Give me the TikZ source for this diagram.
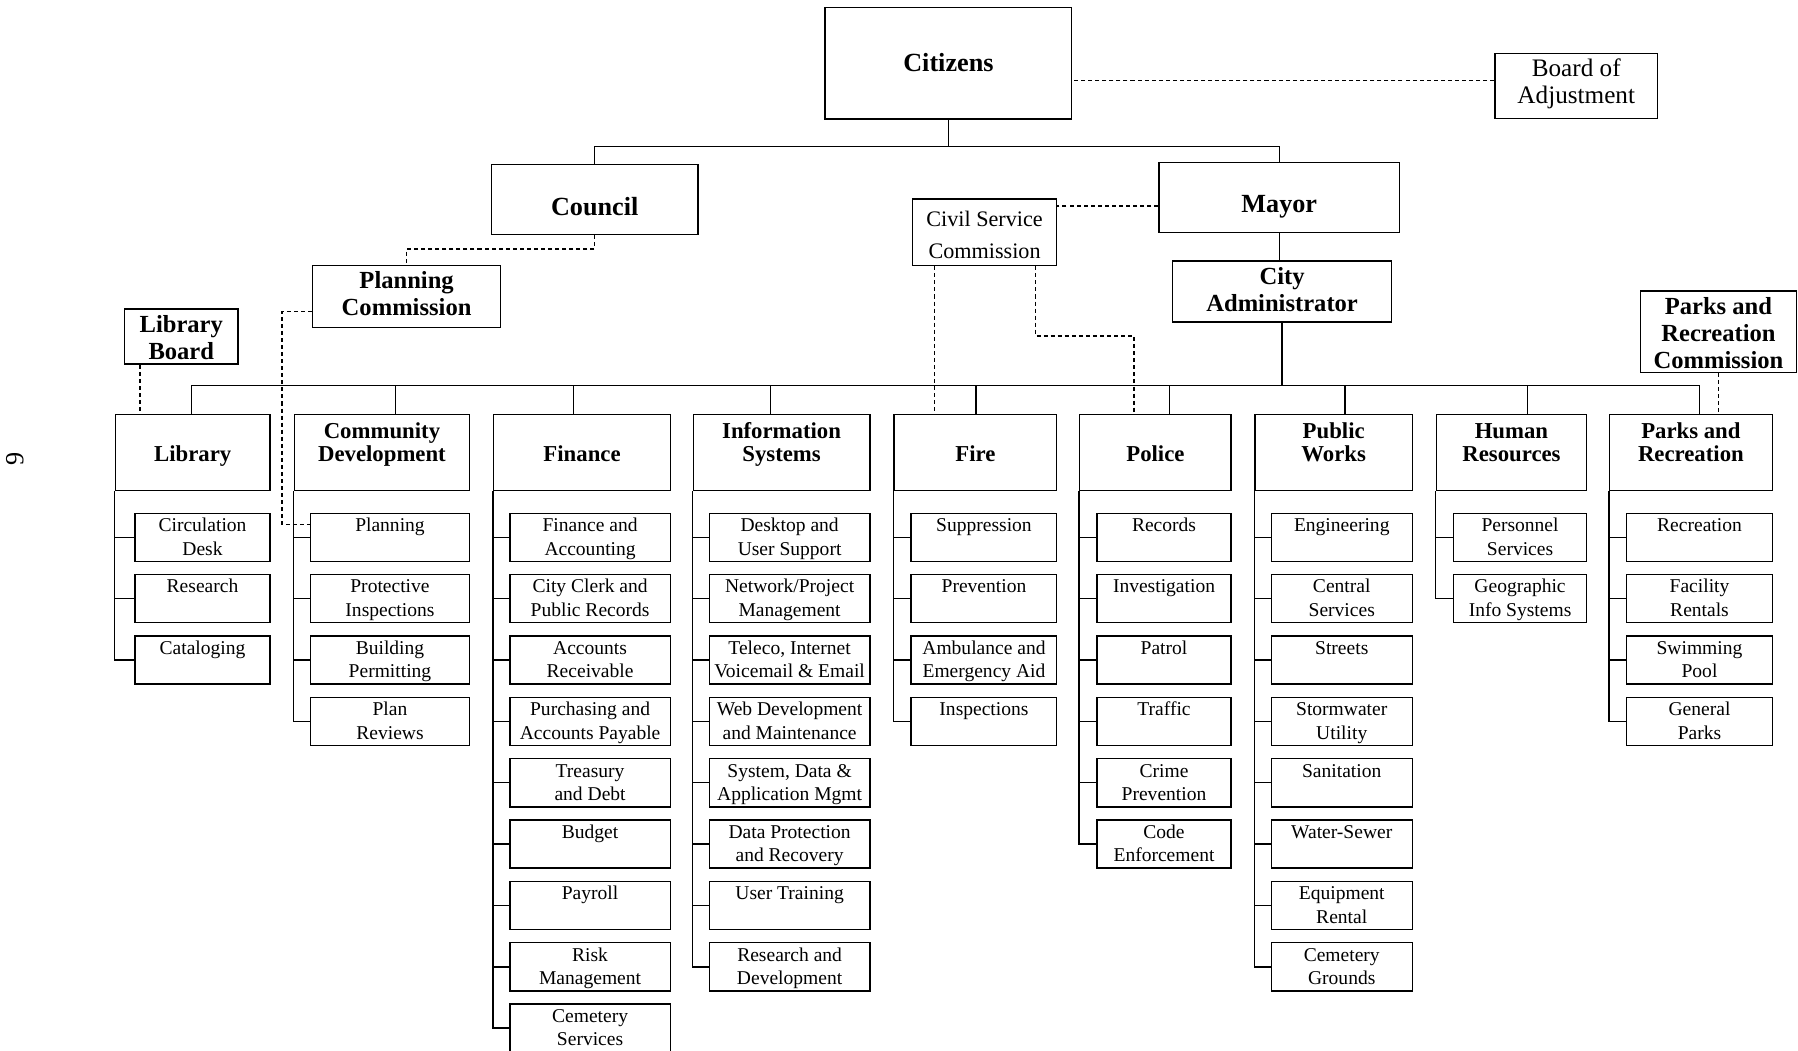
\documentclass[tikz,border=0pt]{standalone}
\usepackage{fontspec}
\setmainfont{Liberation Serif}

\begin{document}
\begin{tikzpicture}[x=0.02cm, y=-0.02cm, line width=0.7pt,
  box/.style={draw, anchor=north west, align=center, inner sep=0pt},
  topbox/.style={box, font=\fontsize{13}{14}\selectfont\bfseries},
  board/.style={box, font=\fontsize{12.2}{13.4}\selectfont\bfseries},
  head/.style={box, font=\fontsize{11.3}{11.4}\selectfont\bfseries, text height=23pt, text depth=14.6pt},
  sub/.style={box, font=\fontsize{9.7}{11.7}\selectfont, text height=20.8pt, text depth=3.1pt, minimum width=#1},
  subone/.style={sub=#1, text height=9.1pt, text depth=14.8pt},
  link/.style={dash pattern=on 2pt off 1.5pt}]

\useasboundingbox (0,0) rectangle (1568,916);

\node[rotate=90, font=\fontsize{13}{13}\selectfont] (pagenum) at (13,400) {9};

\node[topbox, minimum width=4.3cm, text height=31.9pt, text depth=23.3pt] (citizens) at (719,6) {Citizens};
\node[box, font=\fontsize{12.5}{13.7}\selectfont, minimum width=2.84cm, text height=25pt, text depth=7.4pt] (board) at (1303,46) {Board of\\Adjustment};
\node[topbox, minimum width=3.6cm, text height=25pt, text depth=9.7pt] (council) at (428,143) {Council};
\node[topbox, minimum width=4.2cm, text height=25pt, text depth=9.7pt] (mayor) at (1010,141) {Mayor};
\node[box, font=\fontsize{11}{15.9}\selectfont, minimum width=2.52cm, text height=29.6pt, text depth=3.4pt] (civil) at (795,173) {Civil Service\\Commission};
\node[board, minimum width=3.82cm, text height=25pt, text depth=5.2pt] (admin) at (1022,227) {City\\Administrator};
\node[board, minimum width=3.28cm, text height=25pt, text depth=5.7pt] (planning) at (272,231) {Planning\\Commission};
\node[board, minimum width=1.98cm, text height=25pt, text depth=2.3pt] (libboard) at (108,269) {Library\\Board};
\node[board, minimum width=2.72cm, text height=38.7pt, text depth=1.7pt] (prcomm) at (1430,253) {Parks and\\Recreation\\Commission};

% departments
\node[head, minimum width=2.7cm] (lib) at (100,361) {Library};
\node[head, minimum width=3.06cm] (cd) at (256,361) {Community\\Development};
\node[head, minimum width=3.08cm] (fin) at (430,361) {Finance};
\node[head, minimum width=3.08cm] (infosys) at (604,361) {Information\\Systems};
\node[head, minimum width=2.84cm] (fire) at (779,361) {Fire};
\node[head, minimum width=2.64cm] (police) at (941,361) {Police};
\node[head, minimum width=2.74cm] (pw) at (1094,361) {Public\\Works};
\node[head, minimum width=2.62cm] (hr) at (1252,361) {Human\\Resources};
\node[head, minimum width=2.84cm] (pr) at (1403,361) {Parks and\\Recreation};

% library
\node[sub=2.36cm] (lib1) at (117,447) {Circulation\\Desk};
\node[subone=2.36cm] (lib2) at (117,500.5) {Research};
\node[subone=2.36cm] (lib3) at (117,554) {Cataloging};

% community development
\node[subone=2.78cm] (cd1) at (270,447) {Planning};
\node[sub=2.78cm] (cd2) at (270,500.5) {Protective\\Inspections};
\node[sub=2.78cm] (cd3) at (270,554) {Building\\Permitting};
\node[sub=2.78cm] (cd4) at (270,607.5) {Plan\\Reviews};

% finance
\node[sub=2.8cm] (fin1) at (444,447) {Finance and\\Accounting};
\node[sub=2.8cm] (fin2) at (444,500.5) {City Clerk and\\Public Records};
\node[sub=2.8cm] (fin3) at (444,554) {Accounts\\Receivable};
\node[sub=2.8cm] (fin4) at (444,607.5) {Purchasing and\\Accounts Payable};
\node[sub=2.8cm] (fin5) at (444,661) {Treasury\\and Debt};
\node[subone=2.8cm] (fin6) at (444,714.5) {Budget};
\node[subone=2.8cm] (fin7) at (444,768) {Payroll};
\node[sub=2.8cm] (fin8) at (444,821.5) {Risk\\Management};
\node[sub=2.8cm] (fin9) at (444,875) {Cemetery\\Services};

% information systems
\node[sub=2.8cm] (is1) at (618,447) {Desktop and\\User Support};
\node[sub=2.8cm] (is2) at (618,500.5) {Network/Project\\Management};
\node[sub=2.8cm] (is3) at (618,554) {Teleco, Internet\\Voicemail \& Email};
\node[sub=2.8cm] (is4) at (618,607.5) {Web Development\\and Maintenance};
\node[sub=2.8cm] (is5) at (618,661) {System, Data \&\\Application Mgmt};
\node[sub=2.8cm] (is6) at (618,714.5) {Data Protection\\and Recovery};
\node[subone=2.8cm] (is7) at (618,768) {User Training};
\node[sub=2.8cm] (is8) at (618,821.5) {Research and\\Development};

% fire
\node[subone=2.54cm] (fire1) at (794,447) {Suppression};
\node[subone=2.54cm] (fire2) at (794,500.5) {Prevention};
\node[sub=2.54cm] (fire3) at (794,554) {Ambulance and\\Emergency Aid};
\node[subone=2.54cm] (fire4) at (794,607.5) {Inspections};

% police
\node[subone=2.34cm] (pol1) at (956,447) {Records};
\node[subone=2.34cm] (pol2) at (956,500.5) {Investigation};
\node[subone=2.34cm] (pol3) at (956,554) {Patrol};
\node[subone=2.34cm] (pol4) at (956,607.5) {Traffic};
\node[sub=2.34cm] (pol5) at (956,661) {Crime\\Prevention};
\node[sub=2.34cm] (pol6) at (956,714.5) {Code\\Enforcement};

% public works
\node[subone=2.46cm] (pw1) at (1108,447) {Engineering};
\node[sub=2.46cm] (pw2) at (1108,500.5) {Central\\Services};
\node[subone=2.46cm] (pw3) at (1108,554) {Streets};
\node[sub=2.46cm] (pw4) at (1108,607.5) {Stormwater\\Utility};
\node[subone=2.46cm] (pw5) at (1108,661) {Sanitation};
\node[subone=2.46cm] (pw6) at (1108,714.5) {Water-Sewer};
\node[sub=2.46cm] (pw7) at (1108,768) {Equipment\\Rental};
\node[sub=2.46cm] (pw8) at (1108,821.5) {Cemetery\\Grounds};

% human resources
\node[sub=2.32cm] (hr1) at (1267,447) {Personnel\\Services};
\node[sub=2.32cm] (hr2) at (1267,500.5) {Geographic\\Info Systems};

% parks and recreation
\node[subone=2.54cm] (pr1) at (1418,447) {Recreation};
\node[sub=2.54cm] (pr2) at (1418,500.5) {Facility\\Rentals};
\node[sub=2.54cm] (pr3) at (1418,554) {Swimming\\Pool};
\node[sub=2.54cm] (pr4) at (1418,607.5) {General\\Parks};

% solid lines
\coordinate (split) at (822,128);
\draw (citizens.south) -- (citizens.south |- split);
\draw (council.north) |- (split) -| (mayor.north);
\draw (mayor.south) -- (mayor.south |- admin.north);

\coordinate (libtop) at (167,336);
\coordinate (cdtop) at (345,336);
\coordinate (fintop) at (500,336);
\coordinate (istop) at (672,336);
\coordinate (firetop) at (851,336);
\coordinate (poltop) at (1020,336);
\coordinate (pwtop) at (1173,336);
\coordinate (hrtop) at (1332,336);
\coordinate (prtop) at (1482,336);
\draw (libtop) -- (prtop);
\draw (admin.south) -- (admin.south |- libtop);
\foreach \d/\t in {lib/libtop, cd/cdtop, fin/fintop, infosys/istop, fire/firetop, police/poltop, pw/pwtop, hr/hrtop, pr/prtop}
  \draw (\t) -- (\t |- \d.north);

\foreach \s in {lib1,lib2,lib3} \draw (lib.south west) |- (\s.west);
\foreach \s in {cd1,cd2,cd3,cd4} \draw (cd.south west) |- (\s.west);
\foreach \s in {fin1,fin2,fin3,fin4,fin5,fin6,fin7,fin8,fin9} \draw (fin.south west) |- (\s.west);
\foreach \s in {is1,is2,is3,is4,is5,is6,is7,is8} \draw (infosys.south west) |- (\s.west);
\foreach \s in {fire1,fire2,fire3,fire4} \draw (fire.south west) |- (\s.west);
\foreach \s in {pol1,pol2,pol3,pol4,pol5,pol6} \draw (police.south west) |- (\s.west);
\foreach \s in {pw1,pw2,pw3,pw4,pw5,pw6,pw7,pw8} \draw (pw.south west) |- (\s.west);
\foreach \s in {hr1,hr2} \draw (hr.south west) |- (\s.west);
\foreach \s in {pr1,pr2,pr3,pr4} \draw (pr.south west) |- (\s.west);

% dashed lines
\draw[link] ([yshift=2.8pt]board.west) -- ([yshift=2.8pt]board.west -| citizens.east);
\draw[link] ([yshift=-4.3pt]mayor.west) -- ([yshift=-4.3pt]mayor.west -| civil.east);
\draw[link] (council.south) -- ++(0,12) -| (planning.north);
\draw[link] ([yshift=-7.4pt]planning.west) -- ++(-26,0) |- ([yshift=6.3pt]cd1.west);
\draw[link] ([xshift=8pt]libboard.south west) -- ([xshift=8pt]libboard.south west |- lib.north);
\draw[link] ([xshift=11.4pt]civil.south west) -- ([xshift=11.4pt]civil.south west |- fire.north);
\coordinate (polcs) at (989,293);
\draw[link] ([xshift=-10.8pt]civil.south east) |- (polcs) -- (polcs |- police.north);
\draw[link] (prcomm.south) -- (prcomm.south |- pr.north);

\end{tikzpicture}
\end{document}
